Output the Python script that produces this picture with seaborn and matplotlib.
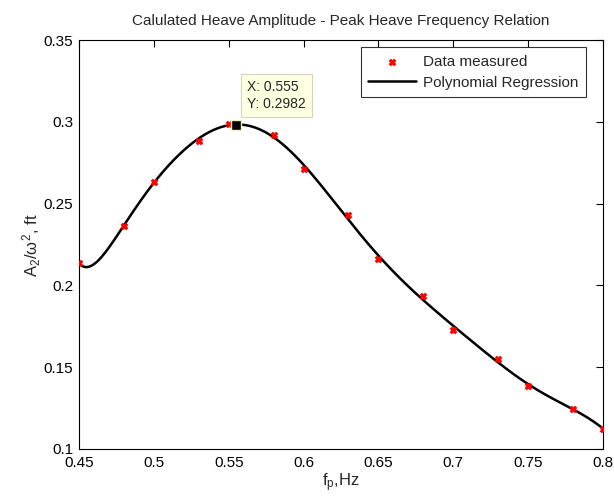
import numpy as np
import pandas as pd
import matplotlib
matplotlib.use("Agg")
import matplotlib.pyplot as plt
import seaborn as sns

# ---- data ----
freq = [0.45, 0.48, 0.50, 0.53, 0.55, 0.58, 0.60, 0.63, 0.65, 0.68, 0.70, 0.73, 0.75, 0.78, 0.80]
amp = [0.2135, 0.2365, 0.2635, 0.2885, 0.2990, 0.2920, 0.2710, 0.2430, 0.2160, 0.1935, 0.1725, 0.1550, 0.1385, 0.1245, 0.1125]
poly_order = 10
tip_x = 0.555
tip_y = 0.2982
x_ticks = [0.45, 0.5, 0.55, 0.6, 0.65, 0.7, 0.75, 0.8]
y_ticks = [0.1, 0.15, 0.2, 0.25, 0.3, 0.35]

sns.set_theme(style="white")
plt.rcParams['font.family'] = ['Liberation Sans', 'DejaVu Sans']
plt.rcParams['mathtext.fontset'] = 'custom'
plt.rcParams['mathtext.rm'] = 'Liberation Sans'
plt.rcParams['mathtext.it'] = 'Liberation Sans'

df = pd.DataFrame({"f": freq, "A": amp})
fit = np.polynomial.Polynomial.fit(df["f"], df["A"], poly_order)
xs = np.linspace(min(freq), max(freq), 500)
curve = pd.DataFrame({"f": xs, "A": fit(xs)})

fig = plt.figure(figsize=(6.14, 4.96), dpi=100)
ax = fig.add_axes([0.1287, 0.0948, 0.982 - 0.1287, 0.919 - 0.0948])

sns.scatterplot(data=df, x="f", y="A", marker="X", color="red", s=22,
                edgecolor="red", linewidth=0.6, ax=ax, label="Data measured", zorder=3)
sns.lineplot(data=curve, x="f", y="A", color="black", linewidth=1.8, ax=ax,
             label="Polynomial Regression", zorder=2)

ax.plot([tip_x], [tip_y], marker="s", markersize=7.5, color="black",
        markeredgecolor="#f0f0c8", markeredgewidth=1, zorder=5)
ax.annotate(f"X: {tip_x:g}\nY: {tip_y:g}", xy=(tip_x, tip_y), xytext=(8, 10),
            textcoords="offset points", fontsize=10, va="bottom", ha="left",
            linespacing=1.25,
            bbox=dict(boxstyle="square,pad=0.42", fc="#ffffe1", ec="#d4d4c0", lw=0.8),
            zorder=6)

ax.set_xlim(0.45, 0.8)
ax.set_ylim(0.1, 0.35)
ax.set_xticks(x_ticks)
ax.set_yticks(y_ticks)
ax.set_xticklabels([f"{t:g}" for t in x_ticks])
ax.set_yticklabels([f"{t:g}" for t in y_ticks])
ax.tick_params(direction="in", length=5, width=0.8, top=True, right=True,
               labelsize=11, colors="black", pad=4)
ax.tick_params(axis="x", pad=5)
for s in ax.spines.values():
    s.set_visible(True)
    s.set_color("black")
    s.set_linewidth(0.8)

ax.set_xlabel(r"f$_{\mathrm{p}}$,Hz", fontsize=12, labelpad=1)
ax.set_ylabel(r"A$_{\mathrm{2}}$/$\omega^{\mathrm{2}}$, ft", fontsize=12, labelpad=0.5)
ax.set_title("Calulated Heave Amplitude - Peak Heave Frequency Relation", fontsize=11, pad=11)

leg = ax.legend(loc="upper right", frameon=True, fancybox=False, fontsize=11,
                edgecolor="black", borderpad=0.5, handlelength=3.1, handletextpad=0.5,
                labelspacing=0.45, borderaxespad=0,
                bbox_to_anchor=(0.968, 0.983))
leg.get_frame().set_linewidth(0.8)

fig.savefig("out.png", dpi=100, facecolor="white")
